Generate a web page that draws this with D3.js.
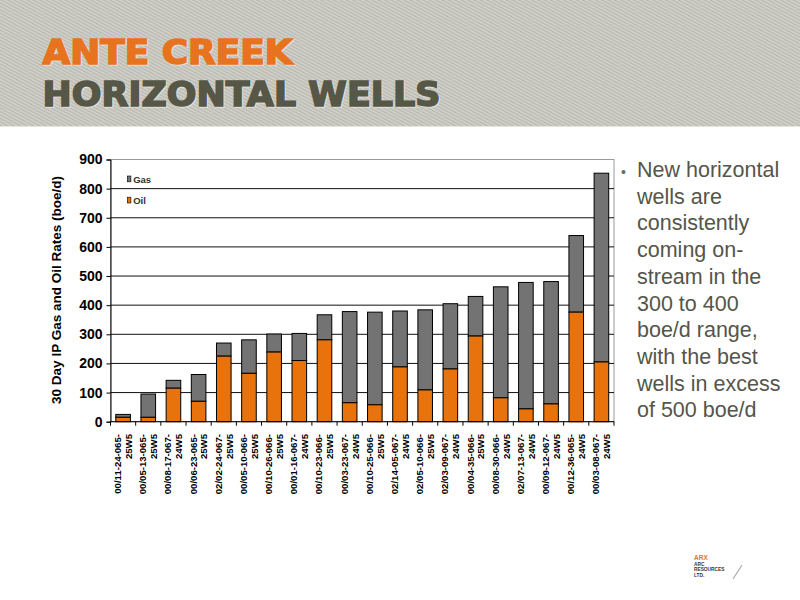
<!DOCTYPE html>
<html><head><meta charset="utf-8">
<script src="https://cdn.jsdelivr.net/npm/d3@7/dist/d3.min.js"></script>
<style>html,body{margin:0;padding:0;background:#fff;}svg{display:block;}</style>
</head><body>
<svg id="c" width="800" height="600"></svg>
<script>
const wells = ["00/11-24-065-|25W5","00/05-13-065-|25W5","00/08-17-067-|24W5","00/06-23-065-|25W5","02/02-24-067-|25W5","00/05-10-066-|25W5","00/10-26-066-|25W5","00/01-16-067-|24W5","00/10-23-066-|25W5","00/03-23-067-|24W5","00/10-25-066-|25W5","02/14-05-067-|24W5","02/05-10-066-|25W5","02/03-09-067-|24W5","00/04-35-066-|25W5","00/08-30-066-|24W5","02/07-13-067-|24W5","00/09-12-067-|24W5","00/12-36-065-|24W5","00/03-08-067-|24W5"];
const oil = [15, 15, 115, 70, 225, 166, 239, 210, 281, 65, 58, 188, 109, 181, 294, 82, 44, 61, 376, 205];
const gas = [10, 80, 27, 92, 45, 115, 62, 93, 86, 313, 318, 192, 275, 224, 136, 381, 434, 420, 263, 648];
const yTicks = [0,100,200,300,400,500,600,700,800,900];
const bullet = ["New horizontal","wells are","consistently","coming on-","stream in the","300 to 400","boe/d range,","with the best","wells in excess","of 500 boe/d"];

const svg = d3.select("#c");
const defs = svg.append("defs");
const pat = defs.append("pattern").attr("id","stripe").attr("width",3).attr("height",3)
  .attr("patternUnits","userSpaceOnUse").attr("patternTransform","rotate(-62)");
pat.append("rect").attr("width",3).attr("height",3).attr("fill","#d0d0c9");
pat.append("rect").attr("width",1.1).attr("height",3).attr("fill","#b7b7af");

svg.append("rect").attr("x",0).attr("y",0).attr("width",800).attr("height",126).attr("fill","url(#stripe)");
svg.append("line").attr("x1",0).attr("x2",800).attr("y1",126.5).attr("y2",126.5).attr("stroke","#e4e4e0");

const tf = "'DejaVu Sans', Arial, sans-serif";
// soft light shadow
[["ANTE CREEK",64,250,"#e8731e"],["HORIZONTAL WELLS",106,398,"#565747"]].forEach(([t,yy,w,c])=>{
  svg.append("text").attr("x",43.5).attr("y",yy+1.2).attr("font-family",tf).attr("font-weight","bold")
    .attr("font-size",34).attr("textLength",w).attr("lengthAdjust","spacingAndGlyphs")
    .attr("fill","#ecece6").attr("stroke","#ecece6").attr("stroke-width",1.6).attr("opacity",0.7).text(t);
  svg.append("text").attr("x",42.5).attr("y",yy).attr("font-family",tf).attr("font-weight","bold")
    .attr("font-size",34).attr("textLength",w).attr("lengthAdjust","spacingAndGlyphs")
    .attr("fill",c).attr("stroke",c).attr("stroke-width",1.6).text(t);
});

const L = 110.5, R = 614, T = 159.5, B = 421.7;
const x = d3.scaleBand().domain(wells).range([L, R]).paddingInner(0.42).paddingOuter(0.21);
const y = d3.scaleLinear().domain([0, 900]).range([B, T]);
const g = svg.append("g");

g.append("rect").attr("x",L).attr("y",T).attr("width",R-L).attr("height",B-T)
  .attr("fill","none").attr("stroke","#999").attr("stroke-width",1);
g.selectAll("line.grid").data(yTicks.filter(d=>d>0&&d<900)).join("line").attr("class","grid")
  .attr("x1",L).attr("x2",R).attr("y1",d=>y(d)).attr("y2",d=>y(d))
  .attr("stroke","#111").attr("stroke-width",1);

const data = wells.map((w,i)=>({w, oil:oil[i], gas:gas[i]}));
const bars = g.selectAll("g.bar").data(data).join("g");
bars.append("rect").attr("x",d=>x(d.w)).attr("width",x.bandwidth())
  .attr("y",d=>y(d.oil+d.gas)).attr("height",d=>y(d.oil)-y(d.oil+d.gas))
  .attr("fill","#737373").attr("stroke","#000").attr("stroke-width",1);
bars.append("rect").attr("x",d=>x(d.w)).attr("width",x.bandwidth())
  .attr("y",d=>y(d.oil)).attr("height",d=>B-y(d.oil))
  .attr("fill","#e8720c").attr("stroke","#000").attr("stroke-width",1);

const ya = d3.axisLeft(y).tickValues(yTicks).tickSize(4).tickPadding(4);
const yg = g.append("g").attr("transform",`translate(${L},0)`).call(ya);
yg.select(".domain").attr("stroke","#000");
yg.selectAll("text").attr("font-family","'Liberation Sans', Arial, sans-serif").attr("font-weight","bold")
  .attr("font-size",14).attr("fill","#000");

g.append("line").attr("x1",L).attr("x2",R).attr("y1",B).attr("y2",B).attr("stroke","#000");
g.selectAll("line.xt").data(d3.range(wells.length+1)).join("line")
  .attr("x1",i=>L+i*(R-L)/wells.length).attr("x2",i=>L+i*(R-L)/wells.length)
  .attr("y1",B).attr("y2",B+4).attr("stroke","#000");

const xl = g.selectAll("g.xl").data(wells).join("g")
  .attr("transform",d=>`translate(${x(d)+x.bandwidth()/2},434) rotate(-90)`);
xl.each(function(d){
  const parts = d.split("|");
  const s = d3.select(this);
  parts.forEach((p,j)=>{
    s.append("text").attr("x",0).attr("y",j===0?-5.4:5.5).attr("dy","0.35em")
      .attr("text-anchor","end").attr("font-family","'Liberation Sans', Arial, sans-serif")
      .attr("font-weight","bold").attr("font-size",9.6).attr("fill","#000").text(p);
  });
});

svg.append("text").attr("transform","translate(61,290) rotate(-90)").attr("text-anchor","middle")
  .attr("font-family","'Liberation Sans', Arial, sans-serif").attr("font-weight","bold")
  .attr("font-size",13.5).attr("fill","#000").text("30 Day IP Gas and Oil Rates (boe/d)");

const leg = [{k:"Gas",c:"#737373",y:179},{k:"Oil",c:"#e8720c",y:200.2}];
const lg = svg.selectAll("g.leg").data(leg).join("g");
lg.append("rect").attr("x",127.3).attr("y",d=>d.y-3).attr("width",3.6).attr("height",5.8)
  .attr("fill",d=>d.c).attr("stroke","#000").attr("stroke-width",0.6);
lg.append("text").attr("x",133.2).attr("y",d=>d.y+4.2).attr("font-family","'Liberation Sans', Arial, sans-serif")
  .attr("font-weight","bold").attr("font-size",9.5).attr("fill","#333").text(d=>d.k);

svg.append("text").attr("x",621).attr("y",176.5).attr("font-family","'Liberation Sans', Arial, sans-serif")
  .attr("font-size",14).attr("fill","#6a6a60").text("•");
svg.selectAll("text.bl").data(bullet).join("text").attr("class","bl")
  .attr("x",637).attr("y",(d,i)=>177+i*26.7)
  .attr("font-family","'Liberation Sans', Arial, sans-serif").attr("font-size",21.5)
  .attr("fill","#55554b").text(d=>d);

const lf = "'Liberation Sans', Arial, sans-serif";
svg.append("text").attr("x",694).attr("y",560).attr("font-family",lf).attr("font-weight","bold")
  .attr("font-size",6.5).attr("fill","#e8731e").text("ARX");
["ARC","RESOURCES","LTD."].forEach((t,i)=>{
  svg.append("text").attr("x",694).attr("y",566+i*5.3).attr("font-family",lf).attr("font-weight","bold")
    .attr("font-size",4.8).attr("fill","#333").text(t);
});
svg.append("line").attr("x1",733).attr("y1",579).attr("x2",742).attr("y2",565)
  .attr("stroke","#aaa").attr("stroke-width",1.2);
</script>
</body></html>
